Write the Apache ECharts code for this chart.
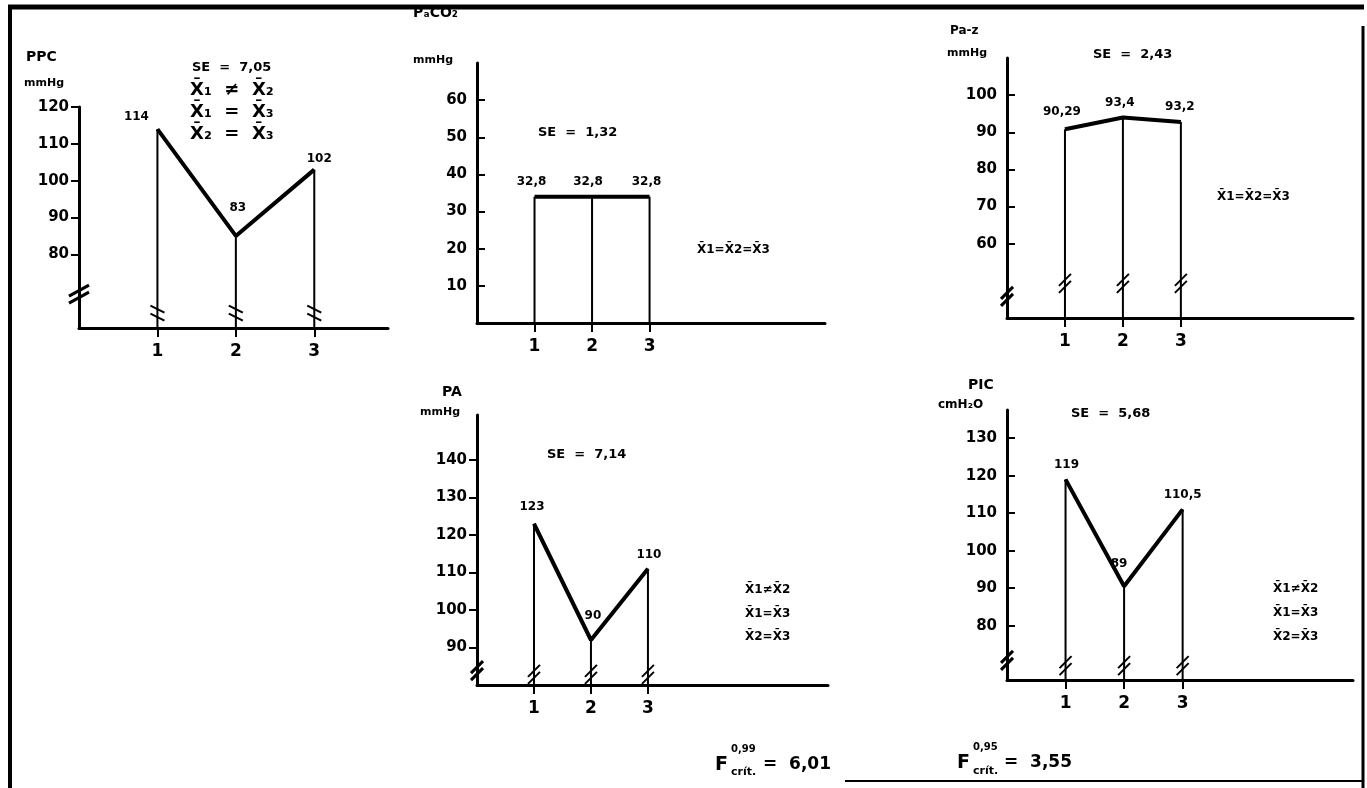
<!DOCTYPE html>
<html>
<head>
<meta charset="utf-8">
<script src="https://cdn.jsdelivr.net/npm/echarts@6/dist/echarts.min.js"></script>
<style>
  html, body { margin: 0; padding: 0; background: #fff; }
  #main { width: 1367px; height: 788px; }
</style>
</head>
<body>
<div id="main"></div>
<script>
// categories (groups 1, 2, 3)
var cats = [1, 2, 3];

// PPC mmHg
var ppcVals = [114, 85, 103];
var ppcLabels = ['114', '83', '102'];
var ppcTicks = [80, 90, 100, 110, 120];

// PaCO2 mmHg
var pacoVals = [34, 34, 34];
var pacoLabels = ['32,8', '32,8', '32,8'];
var pacoTicks = [10, 20, 30, 40, 50, 60];

// Pa-z mmHg
var pazVals = [90.8, 94, 92.8];
var pazLabels = ['90,29', '93,4', '93,2'];
var pazTicks = [60, 70, 80, 90, 100];

// PA mmHg
var paVals = [123, 92, 111];
var paLabels = ['123', '90', '110'];
var paTicks = [90, 100, 110, 120, 130, 140];

// PIC cmH2O
var picVals = [119, 90.5, 111];
var picLabels = ['119', '89', '110,5'];
var picTicks = [80, 90, 100, 110, 120, 130];

var FONT = '"DejaVu Sans", sans-serif';

// one entry per small panel: grid box, axis range, breaks, label nudges (px from the point)
var panels = [
  { vals: ppcVals, labels: ppcLabels, ticks: ppcTicks,
    grid: [79, 107, 309, 221], xMax: 3.94, yMin: 60, yMax: 120,
    brk: 65, axisBrk: 70, brkKind: 'flat', tickIn: false, axisW: 3,
    off: [[-21, -12], [2, -28], [5, -11]] },
  { vals: pacoVals, labels: pacoLabels, ticks: pacoTicks,
    grid: [477, 63, 348, 260], xMax: 6.05, yMin: 0, yMax: 70,
    brk: null, axisBrk: null, tickIn: true, axisW: 3,
    off: [[-3, -15], [-4, -15], [-3, -15]] },
  { vals: pazVals, labels: pazLabels, ticks: pazTicks,
    grid: [1007, 58, 346, 260], xMax: 5.97, yMin: 40, yMax: 110,
    brk: 50, axisBrk: 46.5, brkKind: 'steep', tickIn: true, axisW: 3,
    off: [[-3, -17], [-3, -15], [-1, -15]] },
  { vals: paVals, labels: paLabels, ticks: paTicks,
    grid: [477, 415, 351, 270], xMax: 6.16, yMin: 80, yMax: 152,
    brk: 83.5, axisBrk: 84.5, brkKind: 'steep', tickIn: false, axisW: 3,
    off: [[-2, -17], [2, -24], [1, -14]] },
  { vals: picVals, labels: picLabels, ticks: picTicks,
    grid: [1007, 410, 346, 270], xMax: 5.91, yMin: 65.5, yMax: 137.5,
    brk: 70, axisBrk: 71.4, brkKind: 'steep', tickIn: true, axisW: 3,
    off: [[1, -15], [-5, -22], [0, -15]] }
];

function slashPair(cx, cy, kind, w) {
  var lines = [];
  var d;
  if (kind === 'flat') {
    d = [[-7, -4, 7, 3], [-7, 4, 7, 11]];
  } else if (kind === 'axis1') {
    d = [[-10, 5, 10, -6], [-10, 12, 10, 1]];
  } else {
    d = [[-6, 5, 6, -7], [-6, 12, 6, 0]];
  }
  d.forEach(function (s) {
    lines.push({
      type: 'line',
      shape: { x1: cx + s[0], y1: cy + s[1], x2: cx + s[2], y2: cy + s[3] },
      style: { stroke: '#000', lineWidth: w }
    });
  });
  return lines;
}

var grids = [], xAxes = [], yAxes = [], series = [];

panels.forEach(function (c, k) {
  grids.push({ left: c.grid[0], top: c.grid[1], width: c.grid[2], height: c.grid[3], containLabel: false });
  xAxes.push({
    gridIndex: k, type: 'value', min: 0, max: c.xMax,
    axisLine: { onZero: false, lineStyle: { color: '#000', width: c.axisW } },
    axisTick: { show: true, customValues: cats, length: 9, lineStyle: { color: '#000', width: 2 } },
    axisLabel: { customValues: cats, margin: 15, color: '#000', fontSize: 17, fontWeight: 'bold', fontFamily: FONT },
    splitLine: { show: false }
  });
  yAxes.push({
    gridIndex: k, type: 'value', min: c.yMin, max: c.yMax,
    axisLine: { show: true, onZero: false, lineStyle: { color: '#000', width: c.axisW } },
    axisTick: { show: true, inside: c.tickIn, customValues: c.ticks, length: 8, lineStyle: { color: '#000', width: 2 } },
    axisLabel: { customValues: c.ticks, margin: 10, color: '#000', fontSize: 15, fontWeight: 'bold', fontFamily: FONT },
    splitLine: { show: false }
  });

  // vertical drop lines, break marks and value labels
  series.push({
    type: 'custom', xAxisIndex: k, yAxisIndex: k, silent: true, clip: false,
    data: cats.map(function (x, i) { return [x, c.vals[i]]; }),
    renderItem: function (params, api) {
      var i = params.dataIndex;
      var x = api.value(0), v = api.value(1);
      var top = api.coord([x, v]);
      var bot = api.coord([x, c.yMin]);
      var kids = [{
        type: 'line',
        shape: { x1: top[0], y1: top[1], x2: bot[0], y2: bot[1] },
        style: { stroke: '#000', lineWidth: 2 }
      }, {
        type: 'text',
        x: top[0] + c.off[i][0], y: top[1] + c.off[i][1],
        style: {
          text: c.labels[i], fill: '#000', fontFamily: FONT, fontWeight: 'bold',
          fontSize: 12, align: 'center', verticalAlign: 'middle'
        }
      }];
      if (c.brk !== null) {
        var b = api.coord([x, c.brk]);
        kids = kids.concat(slashPair(b[0], b[1], c.brkKind, 2));
      }
      if (i === 0 && c.axisBrk !== null) {
        var a = api.coord([0, c.axisBrk]);
        kids = kids.concat(slashPair(a[0], a[1], k === 0 ? 'axis1' : 'steep', 3));
      }
      return { type: 'group', children: kids };
    },
    z: 2
  });

  // mean line
  series.push({
    type: 'line', xAxisIndex: k, yAxisIndex: k,
    data: cats.map(function (x, i) { return [x, c.vals[i]]; }),
    symbol: 'none', silent: true,
    lineStyle: { color: '#000', width: 4 },
    z: 3
  });
});

function txt(x, y, s, size, align) {
  return {
    type: 'text', x: x, y: y,
    style: {
      text: s, fill: '#000', fontFamily: FONT, fontWeight: 'bold',
      fontSize: size, align: align || 'left', verticalAlign: 'middle'
    }
  };
}
function hline(x1, y1, x2, y2, w) {
  return { type: 'line', shape: { x1: x1, y1: y1, x2: x2, y2: y2 }, style: { stroke: '#000', lineWidth: w } };
}

var graphics = [
  // frame
  hline(8, 7, 1364, 7, 5),
  hline(10, 5, 10, 788, 4),
  hline(1363, 26, 1363, 788, 3),
  hline(845, 781, 1363, 781, 2),

  // PPC panel
  txt(26, 57, 'PPC', 14),
  txt(24, 83, 'mmHg', 11),
  txt(192, 68, 'SE  =  7,05', 13),
  txt(190, 90, 'X\u0304\u2081  \u2260  X\u0304\u2082', 18),
  txt(190, 112, 'X\u0304\u2081  =  X\u0304\u2083', 18),
  txt(190, 134, 'X\u0304\u2082  =  X\u0304\u2083', 18),

  // PaCO2 panel
  txt(413, 13, 'P\u2090CO\u2082', 14),
  txt(413, 60, 'mmHg', 11),
  txt(538, 133, 'SE  =  1,32', 13),
  txt(697, 250, 'X\u03041=X\u03042=X\u03043', 12),

  // Pa-z panel
  txt(950, 31, 'Pa-z', 12),
  txt(947, 53, 'mmHg', 11),
  txt(1093, 55, 'SE  =  2,43', 13),
  txt(1217, 197, 'X\u03041=X\u03042=X\u03043', 12),

  // PA panel
  txt(442, 392, 'PA', 14),
  txt(420, 412, 'mmHg', 11),
  txt(547, 455, 'SE  =  7,14', 13),
  txt(745, 590, 'X\u03041\u2260X\u03042', 12),
  txt(745, 614, 'X\u03041=X\u03043', 12),
  txt(745, 637, 'X\u03042=X\u03043', 12),
  txt(715, 765, 'F', 19),
  txt(731, 749, '0,99', 10),
  txt(731, 772, 'crít.', 11),
  txt(763, 765, '=  6,01', 17),

  // PIC panel
  txt(968, 385, 'PIC', 14),
  txt(938, 405, 'cmH\u2082O', 12),
  txt(1071, 414, 'SE  =  5,68', 13),
  txt(1273, 589, 'X\u03041\u2260X\u03042', 12),
  txt(1273, 613, 'X\u03041=X\u03043', 12),
  txt(1273, 637, 'X\u03042=X\u03043', 12),
  txt(957, 763, 'F', 19),
  txt(973, 747, '0,95', 10),
  txt(973, 771, 'crít.', 11),
  txt(1004, 763, '=  3,55', 17)
];

var myChart = echarts.init(document.getElementById('main'), null, { renderer: 'canvas' });
myChart.setOption({
  backgroundColor: '#fff',
  animation: false,
  grid: grids,
  xAxis: xAxes,
  yAxis: yAxes,
  series: series,
  graphic: graphics
});
</script>
</body>
</html>
